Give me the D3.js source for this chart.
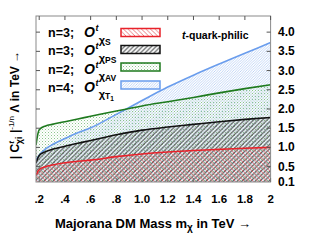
<!DOCTYPE html>
<html>
<head>
<meta charset="utf-8">
<script src="https://cdn.jsdelivr.net/npm/d3@7"></script>
<style>
  body { margin: 0; background: #fff; }
  svg text { font-family: "Liberation Sans", Arial, sans-serif; font-weight: bold; }
</style>
</head>
<body>
<div id="chart-area"></div>
<script>
// DM mass in TeV
let mass = [0.175, 0.19, 0.2, 0.25, 0.3, 0.4, 0.5, 0.6, 0.8, 1.0, 1.2, 1.4, 1.6, 1.8, 2.0];

// Lambda limits in TeV, one per operator
let scalarS   = [0.28, 0.38, 0.42, 0.50, 0.54, 0.60, 0.64, 0.67, 0.76, 0.83, 0.88, 0.92, 0.95, 0.98, 1.00];
let pseudoPS  = [0.59, 0.73, 0.79, 0.89, 0.95, 1.03, 1.11, 1.18, 1.33, 1.45, 1.53, 1.60, 1.67, 1.73, 1.78];
let axialAV   = [1.06, 1.36, 1.46, 1.56, 1.60, 1.67, 1.74, 1.81, 1.95, 2.08, 2.19, 2.30, 2.42, 2.53, 2.63];
let tensorT1  = [0.67, 0.75, 0.80, 0.96, 1.07, 1.23, 1.38, 1.51, 1.86, 2.22, 2.57, 2.88, 3.17, 3.45, 3.73];

let xTicks = [0.2, 0.4, 0.6, 0.8, 1.0, 1.2, 1.4, 1.6, 1.8, 2.0];
let xTickLabels = [".2", ".4", ".6", ".8", "1.0", "1.2", "1.4", "1.6", "1.8", "2"];
let yTicks = [0.1, 0.5, 1.0, 1.5, 2.0, 2.5, 3.0, 3.5, 4.0];
let yTickLabels = ["0.1", "0.5", "1.0", "1.5", "2.0", "2.5", "3.0", "3.5", "4.0"];

let legendN = ["n=3;", "n=3;", "n=2;", "n=4;"];
let legendSub = ["S", "PS", "AV", "T"];

let W = 334, H = 250;
let margin = {top: 16, right: 63.4, bottom: 68, left: 36};
let width = W - margin.left - margin.right;
let height = H - margin.top - margin.bottom;

let svg = d3.select("#chart-area").append("svg")
    .attr("width", W)
    .attr("height", H);

let x = d3.scaleLinear().domain([0.175, 2]).range([margin.left, margin.left + width]);
let y = d3.scaleLinear().domain([0.1, 4.42]).range([margin.top + height, margin.top]);

let defs = svg.append("defs");

defs.append("clipPath").attr("id", "plotclip")
    .append("rect")
    .attr("x", margin.left).attr("y", margin.top)
    .attr("width", width).attr("height", height);

// hatch patterns
function hatch(id, size, dir, color, sw) {
    let p = defs.append("pattern").attr("id", id)
        .attr("patternUnits", "userSpaceOnUse")
        .attr("width", size).attr("height", size);
    let s = size;
    let d = dir > 0
        ? `M0,${s} L${s},0 M${-s / 2},${s / 2} L${s / 2},${-s / 2} M${s / 2},${s * 1.5} L${s * 1.5},${s / 2}`
        : `M0,0 L${s},${s} M${-s / 2},${s / 2} L${s / 2},${s * 1.5} M${s / 2},${-s / 2} L${s * 1.5},${s / 2}`;
    p.append("path").attr("d", d).attr("stroke", color).attr("stroke-width", sw).attr("fill", "none");
}
hatch("patBlue", 2.6, 1, "#aac6f2", 0.7);
hatch("patBlack", 4.5, 1, "#5c5f60", 1.15);
hatch("patRed", 4.5, -1, "#ea6a70", 0.9);

let pg = defs.append("pattern").attr("id", "patGreen")
    .attr("patternUnits", "userSpaceOnUse").attr("width", 3).attr("height", 3);
pg.append("rect").attr("x", 0).attr("y", 0).attr("width", 1).attr("height", 1).attr("fill", "#8cc48c");
pg.append("rect").attr("x", 1.5).attr("y", 1.5).attr("width", 1).attr("height", 1).attr("fill", "#b8dcb8");

let series = [
    {vals: tensorT1, color: "#6a9ded", pat: "patBlue"},
    {vals: axialAV, color: "#1e7a1e", pat: "patGreen"},
    {vals: pseudoPS, color: "#111111", pat: "patBlack"},
    {vals: scalarS, color: "#e8222a", pat: "patRed"}
];

let area = d3.area()
    .x((d, i) => x(mass[i]))
    .y0(y(0.1))
    .y1(d => y(d))
    .curve(d3.curveMonotoneX);

let line = d3.line()
    .x((d, i) => x(mass[i]))
    .y(d => y(d))
    .curve(d3.curveMonotoneX);

let plot = svg.append("g").attr("clip-path", "url(#plotclip)");

plot.selectAll(".area")
    .data(series)
    .enter().append("path")
    .attr("class", "area")
    .attr("d", d => area(d.vals))
    .attr("fill", d => "url(#" + d.pat + ")");

plot.selectAll(".line")
    .data(series)
    .enter().append("path")
    .attr("class", "line")
    .attr("d", d => line(d.vals))
    .attr("fill", "none")
    .attr("stroke", d => d.color)
    .attr("stroke-width", 1.6);

// frame + ticks
svg.append("rect")
    .attr("x", margin.left).attr("y", margin.top)
    .attr("width", width).attr("height", height)
    .attr("fill", "none").attr("stroke", "#8a8a8a").attr("stroke-width", 1);

let tickLen = 4;
svg.append("g").selectAll("line.tt")
    .data(xTicks).enter().append("line")
    .attr("x1", d => x(d)).attr("x2", d => x(d))
    .attr("y1", margin.top).attr("y2", margin.top + tickLen)
    .attr("stroke", "#555");
svg.append("g").selectAll("line.tb")
    .data(xTicks).enter().append("line")
    .attr("x1", d => x(d)).attr("x2", d => x(d))
    .attr("y1", margin.top + height).attr("y2", margin.top + height - tickLen)
    .attr("stroke", "#777");
svg.append("g").selectAll("line.tl")
    .data(yTicks.slice(1)).enter().append("line")
    .attr("x1", margin.left).attr("x2", margin.left + tickLen)
    .attr("y1", d => y(d)).attr("y2", d => y(d))
    .attr("stroke", "#555");
svg.append("g").selectAll("line.tr")
    .data(yTicks.slice(1)).enter().append("line")
    .attr("x1", margin.left + width).attr("x2", margin.left + width - tickLen)
    .attr("y1", d => y(d)).attr("y2", d => y(d))
    .attr("stroke", "#555");

// tick labels
svg.append("g").selectAll("text")
    .data(xTicks).enter().append("text")
    .attr("x", d => x(d))
    .attr("y", 203)
    .attr("text-anchor", "middle")
    .style("font-size", "11.5px")
    .text((d, i) => xTickLabels[i]);

svg.append("g").selectAll("text")
    .data(yTicks).enter().append("text")
    .attr("x", 278)
    .attr("y", d => y(d) + 4)
    .style("font-size", "12px")
    .text((d, i) => yTickLabels[i]);

// axis titles
let xt = svg.append("text")
    .attr("x", 153).attr("y", 228)
    .attr("text-anchor", "middle")
    .style("font-size", "13px");
xt.append("tspan").text("Majorana DM Mass m");
xt.append("tspan").attr("dy", 3).style("font-size", "10px").text("\u03c7");
xt.append("tspan").attr("dy", -3).text(" in TeV \u2192");

let yt = svg.append("text")
    .attr("transform", "translate(19,105) rotate(-90)")
    .attr("text-anchor", "middle")
    .style("font-size", "12px");
yt.append("tspan").text("| C");
yt.append("tspan").attr("dy", -5).style("font-size", "8px").style("font-style", "italic").text("t");
yt.append("tspan").attr("dx", -3).attr("dy", 8).style("font-size", "9px").text("\u03c7i");
yt.append("tspan").attr("dy", -3).text(" |");
yt.append("tspan").attr("dy", -5).style("font-size", "8px").style("font-weight", "normal").text("-1/n");
yt.append("tspan").attr("dy", 5).text(" \u039b  in  TeV \u2192");

svg.append("text")
    .attr("x", 182).attr("y", 39)
    .style("font-size", "10.5px")
    .html('<tspan style="font-style:italic">t</tspan>-quark-philic');

// legend: one text per row; superscript t, then the chi subscript just after it
let rowY = [37, 55.3, 73.6, 91.9];
let swY = [32.5, 49.5, 67, 85];
let legendColors = ["#e8222a", "#111111", "#1e7a1e", "#6a9ded"];
let legendPats = ["patRed", "patBlack", "patGreen", "patBlue"];

legendN.forEach(function(n, i) {
    let g = svg.append("g");
    let t = g.append("text").attr("x", 48).attr("y", rowY[i]).style("font-size", "12.5px");
    t.append("tspan").text(n);
    t.append("tspan").attr("x", 84).style("font-size", "14px").style("font-style", "italic").text("O");
    t.append("tspan").attr("dy", -6).attr("dx", 0.5)
        .style("font-size", "9px").style("font-style", "italic").text("t");
    t.append("tspan").attr("dx", 0.3).attr("dy", 12.5).style("font-size", "11px").text("\u03c7");
    t.append("tspan").attr("dy", 1).style("font-size", "8.5px").text(legendSub[i]);
    if (legendSub[i] === "T") {
        t.append("tspan").attr("dy", 2).style("font-size", "6.5px").text("1");
    }
    g.append("rect")
        .attr("x", 121).attr("y", swY[i] - 4)
        .attr("width", 39).attr("height", 8)
        .attr("fill", "url(#" + legendPats[i] + ")")
        .attr("stroke", legendColors[i]).attr("stroke-width", 1.5);
});
</script>
</body>
</html>
